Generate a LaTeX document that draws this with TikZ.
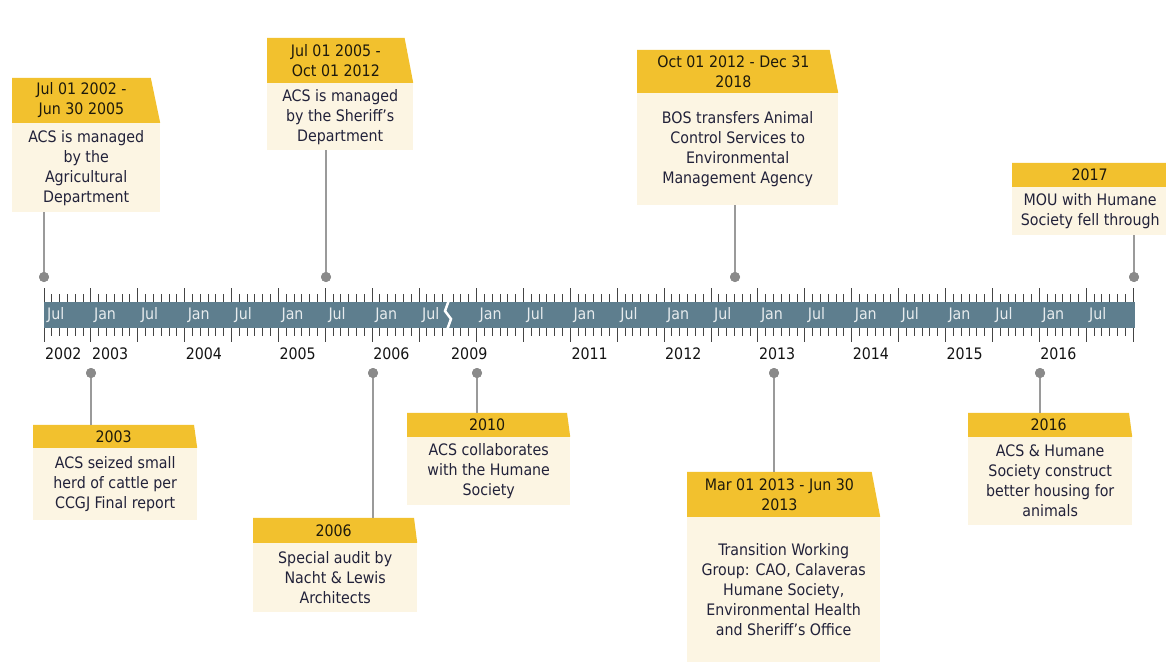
\documentclass[tikz,border=0pt]{standalone}
\usepackage{fontspec}
\setmainfont{DejaVu Sans Condensed}
\usetikzlibrary{shapes.geometric,positioning}

\definecolor{hdryellow}{HTML}{F2C12E}
\definecolor{hdrtext}{HTML}{1E1A0C}
\definecolor{bodycream}{HTML}{FCF5E3}
\definecolor{bodytext}{HTML}{22223A}
\definecolor{barblue}{HTML}{5E7E8E}
\definecolor{tickgrey}{HTML}{444444}
\definecolor{dotgrey}{HTML}{8A8A8A}
\definecolor{stemgrey}{HTML}{9A9A9A}

\newcommand{\cfont}{\fontsize{15.8}{20}\selectfont}

\begin{document}
\begin{tikzpicture}[x=1pt,y=-1pt,
    hdr/.style={trapezium,trapezium left angle=90,trapezium right angle=75,
      trapezium stretches body,fill=hdryellow,text=hdrtext,align=center,
      font=\cfont,inner sep=0pt,anchor=bottom left corner},
    body/.style={rectangle,fill=bodycream,text=bodytext,align=center,
      font=\cfont,inner sep=0pt},
    tl dot/.style={circle,fill=dotgrey,inner sep=0pt,minimum size=10pt},
    stem/.style={draw=stemgrey,line width=1.3pt},
    tick/.style={draw=tickgrey,line width=0.9pt},
    barlab/.style={anchor=west,inner sep=0pt,text=white!85!barblue,font=\cfont},
    yearlab/.style={anchor=west,inner sep=0pt,text=black!92,font=\cfont}]

  \fill[white] (0,0) rectangle (1166,662);
  \useasboundingbox (0,0) rectangle (1166,662);

  % time bar with break
  \fill[barblue] (44,302) rectangle (1135,328);
  \draw[white,line width=2.5pt] (449,300) -- (445,311) -- (451,319) -- (447,330);

  \foreach \m in {0,...,51} {
    \pgfmathsetmacro\tx{44+\m*7.8125}
    \pgfmathsetmacro\tl{mod(\m,6)==0 ? 14 : 8}
    \draw[tick] (\tx,302) -- (\tx,302-\tl);
    \draw[tick] (\tx,328) -- (\tx,328+\tl);
  }
  \foreach \m in {-3,...,84} {
    \pgfmathsetmacro\tx{476.5+\m*7.8167}
    \pgfmathsetmacro\tl{mod(\m,6)==0 ? 14 : 8}
    \draw[tick] (\tx,302) -- (\tx,302-\tl);
    \draw[tick] (\tx,328) -- (\tx,328+\tl);
  }

  \foreach \tx/\lab [count=\i] in {44/Jul,90.9/Jan,137.8/Jul,184.6/Jan,
      231.5/Jul,278.4/Jan,325.3/Jul,372.1/Jan,419/Jul,476.5/Jan,523.4/Jul,
      570.3/Jan,617.2/Jul,664/Jan,710.9/Jul,757.8/Jan,804.7/Jul,851.6/Jan,
      898.5/Jul,945.3/Jan,992.2/Jul,1039.1/Jan,1086/Jul}
    \node[barlab] (bl\i) at (\tx+3,315) {\lab};

  \foreach \tx/\lab [count=\i] in {44/2002,90.9/2003,184.6/2004,278.4/2005,
      372.1/2006,450/2009,570.3/2011,664/2012,757.8/2013,851.6/2014,
      945.3/2015,1039.1/2016}
    \node[yearlab] (yl\i) at (\tx+1,354) {\lab};

  % events above the bar
  \node[hdr,minimum width=148pt,minimum height=45pt] (h1) at (12,123) {Jul 01 2002 -\\Jun 30 2005};
  \node[body,minimum width=148pt,minimum height=89pt] (b1) [below right=0pt and 0pt of h1.bottom left corner] {ACS is managed\\by the\\Agricultural\\Department};
  \node[tl dot] (d1) at (44,277) {};

  \node[hdr,minimum width=146pt,minimum height=45pt] (h2) at (267,83) {Jul 01 2005 -\\Oct 01 2012};
  \node[body,minimum width=146pt,minimum height=67pt] (b2) [below right=0pt and 0pt of h2.bottom left corner] {ACS is managed\\by the Sheriff's\\Department};
  \node[tl dot] (d2) at (326,277) {};

  \node[hdr,minimum width=201pt,minimum height=43pt] (h3) at (637,93) {Oct 01 2012 - Dec 31\\2018};
  \node[body,minimum width=201pt,minimum height=112pt] (b3) [below right=0pt and 0pt of h3.bottom left corner] {BOS transfers Animal\\Control Services to\\Environmental\\Management Agency};
  \node[tl dot] (d3) at (735,277) {};

  \node[hdr,minimum width=158pt,minimum height=24pt] (h4) at (1012,187) {2017};
  \node[body,minimum width=156pt,minimum height=48pt] (b4) [below right=0pt and 0pt of h4.bottom left corner] {MOU with Humane\\Society fell through};
  \node[tl dot] (d4) at (1134,277) {};

  % events below the bar
  \node[hdr,minimum width=164pt,minimum height=23pt] (h5) at (33,448) {2003};
  \node[body,minimum width=164pt,minimum height=72pt] (b5) [below right=0pt and 0pt of h5.bottom left corner] {ACS seized small\\herd of cattle per\\CCGJ Final report};
  \node[tl dot] (d5) at (91,373) {};

  \node[hdr,minimum width=164pt,minimum height=25pt] (h6) at (253,543) {2006};
  \node[body,minimum width=164pt,minimum height=69pt] (b6) [below right=0pt and 0pt of h6.bottom left corner] {Special audit by\\Nacht \& Lewis\\Architects};
  \node[tl dot] (d6) at (373,373) {};

  \node[hdr,minimum width=163pt,minimum height=24pt] (h7) at (407,437) {2010};
  \node[body,minimum width=163pt,minimum height=68pt] (b7) [below right=0pt and 0pt of h7.bottom left corner] {ACS collaborates\\with the Humane\\Society};
  \node[tl dot] (d7) at (477,373) {};

  \node[hdr,minimum width=193pt,minimum height=45pt] (h8) at (687,517) {Mar 01 2013 - Jun 30\\2013};
  \node[body,minimum width=193pt,minimum height=145pt] (b8) [below right=0pt and 0pt of h8.bottom left corner] {Transition Working\\Group: CAO, Calaveras\\Humane Society,\\Environmental Health\\and Sheriff's Office};
  \node[tl dot] (d8) at (774,373) {};

  \node[hdr,minimum width=164pt,minimum height=24pt] (h9) at (968,437) {2016};
  \node[body,minimum width=164pt,minimum height=88pt] (b9) [below right=0pt and 0pt of h9.bottom left corner] {ACS \& Humane\\Society construct\\better housing for\\animals};
  \node[tl dot] (d9) at (1040,373) {};

  % stems
  \draw[stem] (d1) -- (d1 |- b1.south);
  \draw[stem] (d2) -- (d2 |- b2.south);
  \draw[stem] (d3) -- (d3 |- b3.south);
  \draw[stem] (d4) -- (d4 |- b4.south);
  \draw[stem] (d5) -- (d5 |- h5.north);
  \draw[stem] (d6) -- (d6 |- h6.north);
  \draw[stem] (d7) -- (d7 |- h7.north);
  \draw[stem] (d8) -- (d8 |- h8.north);
  \draw[stem] (d9) -- (d9 |- h9.north);
  \foreach \d in {d1,d2,d3,d4,d5,d6,d7,d8,d9}
    \fill[dotgrey] (\d) circle (5pt);

\end{tikzpicture}
\end{document}
